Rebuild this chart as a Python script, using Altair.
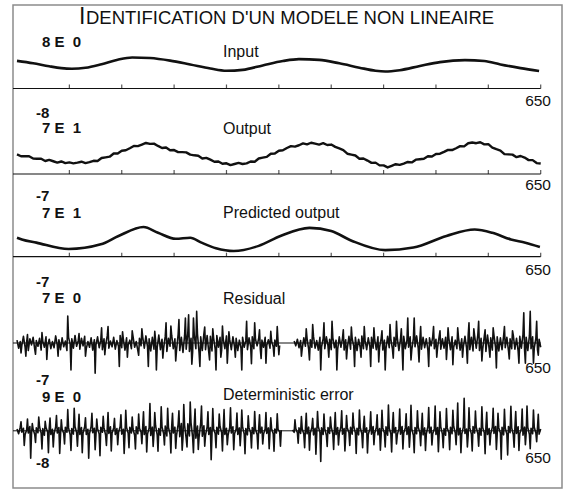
import altair as alt
import pandas as pd

INK = "#111111"
FONT = "Liberation Sans"

# ---------------- text content ----------------
title_first = "I"
title_rest = "DENTIFICATION D'UN MODELE NON LINEAIRE"
panel_names = ["Input", "Output", "Predicted output", "Residual", "Deterministic error"]
max_labels = ["8 E\u00a0\u00a00", "7 E\u00a0\u00a01", "7 E\u00a0\u00a01", "7 E\u00a0\u00a00", "9 E\u00a0\u00a00"]
min_labels = ["-8", "-7", "-7", "-7", "-8"]
end_label = "650"
tick_values = [65, 130, 195, 260, 325, 390, 455, 520, 585, 650]

# ---------------- series ----------------
input_x = [0, 20, 40, 55, 68, 85, 105, 125, 143, 165, 190, 215, 240, 260, 280, 305, 330,
           350, 375, 400, 425, 445, 457, 475, 500, 525, 556, 580, 600, 625, 648]
input_v = [5.4, 3.8, 1.8, 0.6, 0.2, 0.8, 3.2, 6.2, 7.7, 7.3, 5.6, 3.0, 0.3, -1.2, -0.6, 2.4, 5.3,
           6.6, 6.1, 3.8, 0.9, -1.2, -1.7, -0.8, 2.0, 4.6, 5.9, 5.3, 3.0, 0.6, -1.3]

output_x = list(range(0, 651, 5))
output_v = [0.7, -0.1, -0.1, -0.1, -1.1, -1.2, -1.2, -2.2, -1.7, -2.3,
            -2.9, -2.4, -3.1, -2.8, -3.2, -2.9, -2.5, -3.1, -2.7, -2.1,
            -2.2, -0.9, -0.6, -0.3, 1.1, 1.1, 2.3, 2.5, 3.4, 4.4,
            4.3, 5.0, 5.7, 5.3, 5.4, 4.4, 3.5, 3.7, 2.5, 2.6,
            1.7, 1.7, 1.6, 0.6, 0.3, 0.1, -1.1, -0.8, -1.6, -2.5,
            -2.4, -3.4, -3.2, -4.0, -3.5, -3.0, -3.5, -3.2, -2.4, -2.5,
            -1.1, -0.7, -0.4, 1.0, 1.1, 2.3, 2.5, 3.5, 4.3, 4.1,
            4.7, 5.5, 5.1, 5.8, 5.4, 5.0, 5.6, 4.8, 5.0, 4.0,
            3.3, 2.6, 1.0, 0.6, 0.2, -1.2, -1.1, -2.0, -3.0, -2.9,
            -4.1, -4.1, -5.0, -4.3, -3.6, -3.9, -3.3, -2.6, -2.8, -1.6,
            -1.4, -1.2, -0.1, -0.2, 0.9, 1.0, 1.8, 2.7, 2.6, 3.4,
            4.3, 4.2, 5.6, 5.9, 5.6, 6.0, 5.1, 5.2, 3.7, 3.0,
            2.4, 0.8, 0.7, 0.6, -0.5, 0.0, -0.7, -1.8, -1.8, -3.1,
            -3.3]

pred_x = [0, 6, 24, 64, 104, 126, 157, 175, 197, 215, 229, 247, 269, 300, 327, 363,
          390, 416, 457, 492, 533, 568, 590, 613, 631, 649]
pred_v = [0.6, -0.2, -1.7, -4.7, -2.5, 1.4, 5.6, 2.9, 0.1, 0.6, -1.7, -4.3, -5.6, -3.2, 1.4, 5.2,
          3.7, -0.9, -5.2, -4.0, 1.4, 4.4, 2.9, -0.2, -1.7, -3.7]

resid_band_x = list(range(0, 651, 2))
resid_band_v = [
    0.6, -1.1, 0.3, -0.5, 1.4, -0.8, 0.2, -1.6, 0.9, -0.4, 1.2, -1.3, 0.5, -0.7, 1.0, -1.5, 0.4, -0.9, 1.3, -0.6,
    0.8, -1.2, 0.3, -1.0, 1.5, -0.5, 0.7, -1.4, 1.1, -0.8, 0.4, -1.6, 1.2, -0.3, 0.9, -1.1, 1.6, -0.7, 0.5, -1.3,
    1.0, -0.6, 1.4, -1.2, 0.3, -0.9, 1.1, -1.5, 0.7, -0.4, 1.3, -1.0, 0.6, -1.4, 0.9, -0.5, 1.5, -1.1, 0.4, -0.8,
    1.2, -1.3, 0.5, -0.7, 1.6, -1.0, 0.8, -1.5, 1.1, -0.4, 0.6, -1.2, 1.4, -0.9, 0.3, -1.6, 1.0, -0.6, 1.3, -1.1,
    1.5, -0.8, 0.9, -1.7, 1.2, -1.3, 0.6, -1.0, 1.7, -1.4, 0.8, -1.1, 1.4, -1.8, 1.0, -0.7, 1.6, -1.2, 0.9, -1.5,
    1.8, -1.6, 1.2, -2.0, 1.5, -1.3, 2.1, -1.8, 1.0, -1.9, 1.7, -1.2, 1.9, -2.1, 1.3, -1.6, 2.0, -1.4, 1.6, -1.9,
    1.4, -1.7, 1.1, -1.3, 1.6, -0.9, 1.2, -1.5, 0.8, -1.2, 1.5, -1.0, 0.7, -1.4, 1.3, -0.8, 1.0, -1.6, 0.6, -1.1,
    1.2, -0.9, 0.5, -1.4, 1.1, -0.7, 1.3, -1.2, 0.8, -0.6, 1.0, -1.3, 0.6, -0.9, 1.2, -0.5, 0.7, -1.1, 0.4, -0.8,
    0.6, -0.7, 0.3, -0.5, None, None, None, None, None, None, None, None, 0.4, -0.6, 0.8, -1.0, 0.5, -1.2, 1.1, -0.7,
    1.0, -1.3, 0.7, -0.9, 1.4, -1.1, 0.5, -1.5, 1.2, -0.8, 0.9, -1.2, 1.3, -0.6, 0.8, -1.4, 1.1, -1.0, 0.6, -1.3,
    1.3, -0.9, 1.0, -1.5, 0.7, -1.1, 1.4, -1.3, 0.9, -0.7, 1.2, -1.6, 0.8, -1.0, 1.5, -1.2, 0.6, -1.4, 1.1, -0.8,
    1.2, -1.1, 0.7, -1.4, 1.3, -0.9, 1.0, -1.5, 0.6, -1.2, 1.4, -1.0, 0.9, -1.3, 1.2, -0.7, 1.1, -1.6, 0.8, -1.0,
    1.4, -1.2, 0.6, -0.9, 1.3, -1.4, 1.0, -0.8, 1.5, -1.1, 0.7, -1.3, 1.2, -1.0, 0.9, -1.5, 1.1, -0.6, 1.3, -1.2,
    0.8, -1.0, 1.4, -1.3, 0.9, -1.1, 1.2, -0.7, 1.0, -1.4, 1.3, -0.9, 0.6, -1.2, 1.1, -1.5, 0.9, -0.8, 1.4, -1.1,
    1.6, -1.4, 1.2, -1.7, 1.5, -1.1, 1.8, -1.6, 1.0, -1.3, 1.4, -1.8, 1.7, -1.2, 1.1, -1.5, 1.6, -1.0, 1.3, -1.7,
    1.1, -1.4, 1.5, -1.0, 1.2, -1.6, 0.9, -1.2, 1.6, -1.3, 1.0, -1.7, 1.4, -1.1, 1.8, -1.5, 1.2, -1.6, 1.5, -1.2,
    1.3, -1.1, 1.0, -1.4, 0.8, -0.9]
resid_up_x = [13, 31, 63, 77, 105, 113, 131, 143, 155, 171, 185, 191, 201, 209, 213, 219, 223, 233, 243, 255,
              263, 285, 295, 301, 315, 323, 359, 367, 381, 391, 405, 415, 431, 443, 453, 463, 471, 477, 485, 493,
              501, 517, 525, 535, 547, 561, 567, 573, 581, 591, 605, 615, 629, 637, 645]
resid_up_v = [1.8, 2.2, 5.7, 2.0, 3.2, 3.5, 2.4, 2.6, 3.0, 2.5, 4.3, 3.6, 5.0, 5.3, 6.0, 5.3, 6.7, 3.4, 3.0, 3.6,
              2.4, 4.6, 4.3, 2.8, 2.5, 3.5, 3.0, 3.9, 4.3, 4.6, 2.8, 3.4, 3.5, 3.2, 2.6, 3.9, 4.6, 3.0, 5.3, 5.3,
              3.5, 3.5, 2.6, 3.2, 3.2, 4.3, 3.0, 4.6, 2.8, 3.2, 3.5, 2.6, 6.4, 6.7, 4.6]
resid_dn_x = [5, 11, 23, 37, 51, 67, 85, 97, 109, 127, 137, 151, 163, 173, 181, 197, 217, 227, 239, 247,
              253, 261, 271, 279, 291, 303, 309, 319, 325, 353, 363, 377, 387, 397, 409, 419, 427, 439, 449, 457,
              467, 479, 489, 499, 511, 521, 533, 541, 553, 559, 577, 587, 595, 611, 623, 631, 641, 647]
resid_dn_v = [-2.1, -2.8, -2.4, -3.5, -2.8, -5.7, -2.8, -6.4, -2.5, -5.0, -3.0, -2.6, -5.0, -5.7, -3.2, -3.8, -4.5, -5.0, -3.6, -5.7,
              -3.0, -4.3, -3.0, -5.7, -4.4, -3.3, -4.3, -2.8, -2.5, -2.8, -3.6, -5.7, -3.0, -5.7, -3.4, -5.0, -3.0, -5.0, -4.0, -5.7,
              -3.2, -5.7, -3.6, -4.0, -5.0, -3.0, -3.5, -4.6, -3.0, -4.3, -3.8, -3.0, -5.3, -3.4, -4.3, -4.3, -4.3, -2.6]

det_band_x = list(range(0, 651, 2))
det_band_v = [
    0.5, -0.8, 1.0, -0.4, 0.7, -1.1, 0.3, -0.6, 1.2, -0.9, 0.4, -1.0, 0.8, -0.5, 1.1, -0.7, 0.6, -1.2, 0.9, -0.3,
    0.7, -1.0, 0.4, -0.8, 1.1, -0.6, 0.9, -1.2, 0.5, -0.7, 1.0, -0.4, 0.8, -1.1, 0.6, -0.9, 1.2, -0.5, 0.3, -1.0,
    0.9, -0.6, 1.1, -1.0, 0.4, -0.8, 1.2, -0.5, 0.7, -1.1, 0.6, -0.9, 1.0, -0.4, 0.8, -1.2, 0.5, -0.7, 1.1, -0.6,
    0.8, -1.0, 0.6, -0.5, 1.2, -0.9, 0.4, -1.1, 0.9, -0.7, 1.0, -0.6, 0.5, -1.2, 1.1, -0.8, 0.7, -0.4, 1.0, -1.0,
    1.2, -0.9, 0.8, -1.3, 1.0, -0.7, 1.4, -1.1, 0.6, -1.2, 1.1, -0.8, 1.3, -1.4, 0.9, -1.0, 1.2, -0.6, 1.0, -1.3,
    1.8, -1.6, 2.0, -1.9, 1.5, -2.1, 1.9, -1.4, 2.2, -1.8, 1.6, -2.0, 1.3, -1.7, 2.1, -1.5, 1.4, -1.2, 1.1, -1.0,
    0.9, -1.1, 0.6, -0.8, 1.0, -0.9, 1.2, -0.5, 0.8, -1.0, 0.7, -1.2, 0.9, -0.6, 1.1, -0.8, 0.5, -1.0, 0.8, -0.7,
    1.0, -0.9, 0.6, -1.1, 0.8, -0.5, 0.9, -0.8, 0.4, -1.0, 0.7, -0.6, 1.0, -0.9, 0.5, -0.7, 0.8, -0.4, 0.6, -0.8,
    0.5, -0.6, 0.4, -0.3, 0.2, None, None, None, None, None, None, 0.2, -0.4, 0.6, -0.5, 0.8, -0.7, 0.5, -0.9, 0.6,
    -0.8, 1.0, -0.6, 0.9, -1.1, 0.7, -0.9, 1.2, -0.5, 0.8, -1.0, 0.6, -1.2, 0.9, -0.7, 1.1, -0.8, 0.5, -1.0, 0.9,
    -0.7, 1.1, -0.9, 0.6, -1.2, 0.8, -0.5, 1.0, -0.9, 1.2, -0.6, 0.7, -1.1, 0.9, -0.8, 1.0, -0.4, 0.8, -1.0, 0.6,
    -0.9, 1.2, -0.7, 0.9, -1.1, 0.6, -1.0, 0.8, -0.6, 1.1, -1.2, 0.7, -0.8, 1.0, -0.5, 0.9, -1.1, 0.6, -0.9, 1.2,
    -0.6, 0.8, -1.0, 1.1, -0.7, 0.5, -1.2, 0.9, -0.8, 1.0, -0.5, 0.7, -1.1, 0.8, -0.9, 1.2, -0.6, 1.0, -0.8, 0.6,
    -1.0, 0.9, -0.7, 1.1, -0.9, 0.6, -1.2, 0.8, -0.5, 1.0, -0.8, 1.2, -0.6, 0.9, -1.1, 0.7, -0.9, 1.0, -0.7, 0.5,
    -1.1, 0.8, -0.9, 1.2, -0.6, 1.0, -0.8, 0.7, -1.2, 0.9, -0.5, 1.1, -1.0, 0.6, -0.8, 1.0, -0.7, 1.2, -0.9, 0.8,
    -0.6, 1.0, -1.1, 0.7, -0.9, 1.2, -0.5, 0.8, -1.0, 0.9, -0.7, 1.1, -0.8, 0.6, -1.2, 1.0, -0.6, 0.9, -1.0, 0.7,
    -0.8, 1.0, -0.6, 0.8, -0.9, 0.5]
det_up_x = [5, 13, 19, 27, 35, 41, 49, 55, 63, 71, 77, 85, 93, 99, 107, 113, 121, 129, 135, 143,
            151, 157, 165, 171, 179, 187, 193, 201, 207, 215, 221, 229, 237, 243, 251, 257, 265, 273, 279, 287,
            295, 301, 309, 315, 323, 345, 353, 359, 367, 373, 381, 389, 395, 403, 409, 417, 425, 431, 439, 447,
            453, 461, 467, 475, 483, 489, 497, 503, 511, 519, 525, 533, 541, 547, 555, 561, 569, 577, 583, 591,
            597, 605, 613, 619, 627, 633, 641, 647]
det_up_v = [2.5, 3.2, 2.0, 3.8, 2.6, 3.5, 4.2, 3.0, 5.8, 6.2, 4.5, 3.6, 4.8, 3.2, 4.0, 5.0, 3.4, 4.4, 5.6, 3.8,
            4.6, 5.2, 7.5, 5.0, 6.6, 6.2, 4.8, 5.5, 7.2, 7.9, 6.0, 6.8, 5.2, 6.1, 4.6, 5.8, 6.3, 4.9, 5.7, 4.1,
            5.3, 4.4, 5.0, 3.6, 4.7, 3.0, 3.9, 4.8, 3.4, 5.3, 4.6, 3.8, 5.0, 5.5, 4.2, 4.9, 5.7, 4.0, 5.2, 4.4,
            5.6, 7.1, 5.0, 6.0, 4.7, 7.0, 5.5, 4.8, 6.4, 6.8, 5.2, 6.1, 5.6, 7.6, 8.9, 6.3, 5.4, 6.6, 5.1, 6.2,
            4.8, 5.9, 6.7, 5.3, 6.0, 6.8, 5.7, 4.5]
det_dn_x = [9, 17, 23, 31, 39, 45, 53, 59, 67, 75, 81, 89, 97, 103, 111, 117, 125, 133, 139, 147,
            155, 161, 169, 175, 183, 191, 197, 205, 211, 219, 225, 233, 241, 247, 255, 261, 269, 277, 283, 291,
            299, 305, 313, 319, 327, 349, 357, 363, 371, 377, 385, 393, 399, 407, 413, 421, 429, 435, 443, 451,
            457, 465, 471, 479, 487, 493, 501, 507, 515, 523, 529, 537, 545, 551, 559, 565, 573, 581, 587, 595,
            601, 609, 617, 623, 631, 637, 645]
det_dn_v = [-4.0, -7.5, -3.2, -5.0, -6.0, -4.4, -6.2, -3.6, -5.4, -4.2, -6.0, -7.5, -5.2, -6.8, -4.0, -5.5, -3.8, -6.2, -4.6, -5.0,
            -3.5, -5.8, -4.3, -5.6, -3.9, -6.1, -4.8, -5.3, -4.4, -6.0, -5.1, -4.2, -7.9, -4.6, -5.5, -3.8, -5.2, -4.1, -6.3, -4.7,
            -5.0, -3.6, -4.9, -5.6, -4.2, -3.4, -4.6, -5.3, -6.4, -8.4, -4.3, -5.1, -3.9, -5.5, -4.0, -6.2, -4.6, -6.1, -3.8, -5.3,
            -4.4, -5.8, -3.6, -5.0, -4.5, -6.0, -4.1, -5.4, -3.9, -5.7, -4.6, -5.2, -3.8, -6.0, -4.4, -5.5, -4.2, -6.3, -3.9, -5.1,
            -7.8, -6.6, -4.5, -5.4, -3.8, -4.9, -3.0]


def merged(bx, bv, ux, uv, dx, dv):
    df = pd.concat([
        pd.DataFrame({"x": bx, "v": bv}),
        pd.DataFrame({"x": ux, "v": uv}),
        pd.DataFrame({"x": dx, "v": dv}),
    ], ignore_index=True)
    return df.sort_values("x", kind="mergesort").reset_index(drop=True)


input_df = pd.DataFrame({"x": input_x, "v": input_v})
output_df = pd.DataFrame({"x": output_x, "v": output_v})
pred_df = pd.DataFrame({"x": pred_x, "v": pred_v})
resid_df = merged(resid_band_x, resid_band_v, resid_up_x, resid_up_v, resid_dn_x, resid_dn_v)
det_df = merged(det_band_x, det_band_v, det_up_x, det_up_v, det_dn_x, det_dn_v)
tick_df = pd.DataFrame({"x": tick_values})
one = pd.DataFrame({"k": [0]})

# ---------------- layout (pixels inside the frame) ----------------
X_RANGE = [4, 527.7]
XS = alt.Scale(domain=[0, 650], range=X_RANGE, nice=False, zero=False)


def ys(domain, rng):
    return alt.Scale(domain=domain, range=rng, nice=False, zero=False)


def series(df, domain, rng, width, interp="linear"):
    return alt.Chart(df).mark_line(
        color=INK, strokeWidth=width, interpolate=interp,
        invalid="break-paths-show-domains", strokeJoin="round"
    ).encode(
        x=alt.X("x:Q", scale=XS, axis=None),
        y=alt.Y("v:Q", scale=ys(domain, rng), axis=None),
    )


def hline(y, x2=527.7, width=1.2):
    return alt.Chart(one).mark_rule(color=INK, strokeWidth=width).encode(
        x=alt.value(0), x2=alt.value(x2), y=alt.value(y))


def ticks(y):
    return alt.Chart(tick_df).mark_tick(orient="vertical", size=4, thickness=1.2, color=INK).encode(
        x=alt.X("x:Q", scale=XS, axis=None), y=alt.value(y - 2))


def label(txt, x, y, size, bold=False, align="left"):
    return alt.Chart(one).mark_text(
        font=FONT, fontSize=size, fontWeight="bold" if bold else "normal",
        align=align, baseline="alphabetic", color=INK
    ).encode(x=alt.value(x), y=alt.value(y), text=alt.value(txt))


layers = [
    series(input_df, [-8, 8], [76, 52], 2.6, "monotone"),
    series(output_df, [-7, 7], [167, 135], 2.4),
    series(pred_df, [-7, 7], [249, 219], 2.6, "monotone"),
    series(resid_df, [-7, 7], [371, 305], 1.6),
    series(det_df, [-8, 9], [455, 393], 1.6),
    hline(83.5), hline(169), hline(251.7),
    hline(338, width=1), hline(425.8, width=1),
    ticks(83.5), ticks(169), ticks(251.7),
    label(title_first, 66, 18.5, 23),
    label(title_rest, 73, 18.5, 18.5),
]

name_y = [51.5, 128.5, 212.5, 298.5, 394.5]
max_y = [42, 128, 213, 298, 397]
min_y = [113, 196, 282, 380, 463]
end_y = [101, 185, 270, 368, 458]
for i in range(5):
    layers.append(label(panel_names[i], 210, name_y[i], 16))
    layers.append(label(max_labels[i], 29, max_y[i], 15, bold=True))
    layers.append(label(min_labels[i], 23, min_y[i], 15, bold=True))
    layers.append(label(end_label, 538, end_y[i], 15.5, align="right"))

chart = alt.layer(*layers).resolve_scale(y="independent").properties(
    width=549, height=483,
    padding={"left": 13, "top": 5, "right": 2, "bottom": 2},
    autosize=alt.AutoSizeParams(type="none"),
    background="white",
).configure_view(stroke="#8c8c8c", strokeWidth=1.5)

chart.save("out.html", embed_options={"renderer": "svg", "actions": False})
